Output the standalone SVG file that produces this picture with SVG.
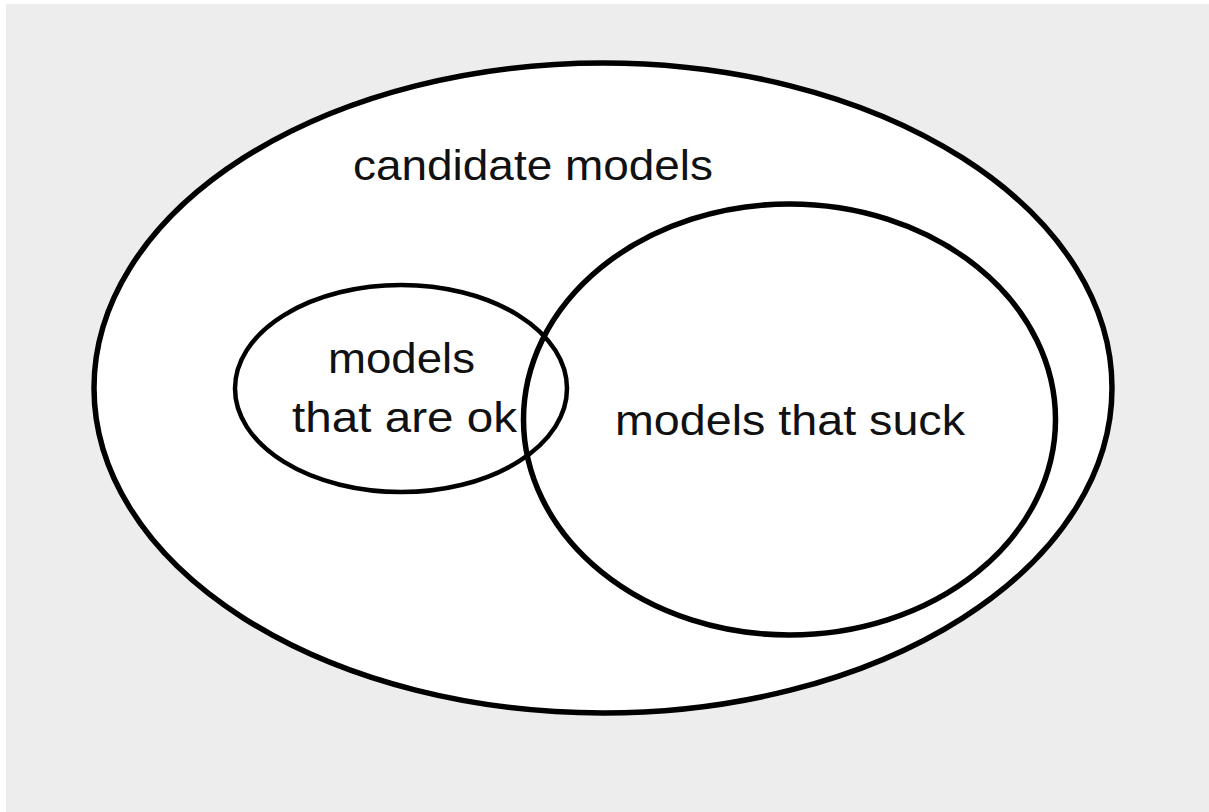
<svg xmlns="http://www.w3.org/2000/svg" width="1209" height="812" viewBox="0 0 1209 812">
<style>
.shape{fill:#ffffff;stroke:#000000}
.lbl{font-family:"Liberation Sans",Arial,sans-serif;font-size:42px;fill:#111111}
</style>
<rect x="0" y="0" width="1209" height="812" fill="#ffffff"/>
<rect x="6" y="4" width="1203" height="808" fill="#ededed"/>
<g id="candidate">
<ellipse class="shape" cx="603" cy="388" rx="509" ry="325" stroke-width="5.5"/>
<text class="lbl" x="353" y="180" textLength="360" lengthAdjust="spacingAndGlyphs">candidate models</text>
</g>
<g id="suck">
<ellipse class="shape" cx="789.5" cy="419.5" rx="266" ry="215.5" stroke-width="5.5"/>
<text class="lbl" x="615" y="435" textLength="350" lengthAdjust="spacingAndGlyphs">models that suck</text>
</g>
<g id="ok">
<ellipse cx="401" cy="388.5" rx="166" ry="103.5" fill="none" stroke="#000000" stroke-width="4.5"/>
<text class="lbl" x="328" y="373" textLength="147" lengthAdjust="spacingAndGlyphs">models</text>
<text class="lbl" x="292" y="432" textLength="225" lengthAdjust="spacingAndGlyphs">that are ok</text>
</g>
<g id="connectors"></g>
</svg>
